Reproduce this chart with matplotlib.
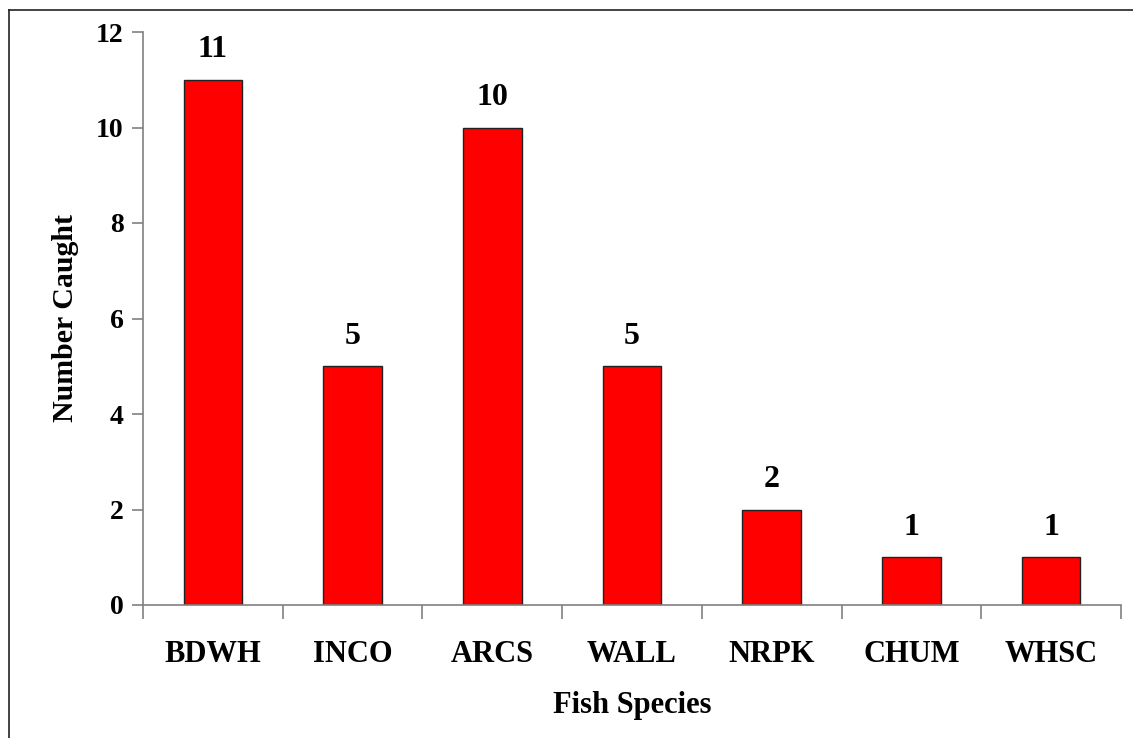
import matplotlib
matplotlib.use("Agg")
import matplotlib.pyplot as plt
from matplotlib.lines import Line2D

# Data
species = ["BDWH", "INCO", "ARCS", "WALL", "NRPK", "CHUM", "WHSC"]
counts = [11, 5, 10, 5, 2, 1, 1]
y_ticks = [0, 2, 4, 6, 8, 10, 12]

plt.rcParams['font.family'] = ['Liberation Serif', 'DejaVu Serif']
plt.rcParams['font.weight'] = 'bold'

W, H = 1133, 738
fig = plt.figure(figsize=(W / 100, H / 100), dpi=100)
ax = fig.add_axes([143 / W, 1 - 605 / H, (1121 - 143) / W, (605 - 32) / H])

x = list(range(len(species)))
bars = ax.bar(x, counts, width=0.42, color='#ff0000', edgecolor='#222222', linewidth=1.0)

for xi, c in zip(x, counts):
    ax.annotate(str(c), (xi, c), xytext=(0, 11), textcoords='offset points',
                ha='center', va='bottom', fontsize=23, fontweight='bold')

ax.set_xlim(-0.5, len(species) - 0.5)
ax.set_ylim(0, 12)
ax.set_yticks(y_ticks)
ax.set_yticklabels([str(t) for t in y_ticks], fontsize=20, fontweight='bold')

# category boundary ticks, labels centred under bars
ax.set_xticks([i - 0.5 for i in range(len(species) + 1)])
ax.set_xticklabels([])
ax.set_xticks(x, minor=True)
ax.set_xticklabels(species, minor=True, fontsize=22, fontweight='bold')
ax.tick_params(axis='x', which='minor', length=0, pad=25)
ax.tick_params(axis='x', which='major', length=10, width=1.2, color='#808080', direction='out')
ax.tick_params(axis='y', length=8, width=1.2, color='#808080', direction='out', pad=6)

for s in ['top', 'right']:
    ax.spines[s].set_visible(False)
for s in ['left', 'bottom']:
    ax.spines[s].set_color('#808080')
    ax.spines[s].set_linewidth(1.2)

ax.set_xlabel("Fish Species", fontsize=22, fontweight='bold', labelpad=16)
ax.set_ylabel("Number Caught", fontsize=21.5, fontweight='bold', labelpad=12)

# outer chart border (left and top edges visible)
fig.add_artist(Line2D([9 / W, 9 / W], [0, 1 - 10 / H], color='#222222', lw=1.2))
fig.add_artist(Line2D([9 / W, 1], [1 - 10 / H, 1 - 10 / H], color='#222222', lw=1.2))

fig.savefig("out.png", dpi=100)
